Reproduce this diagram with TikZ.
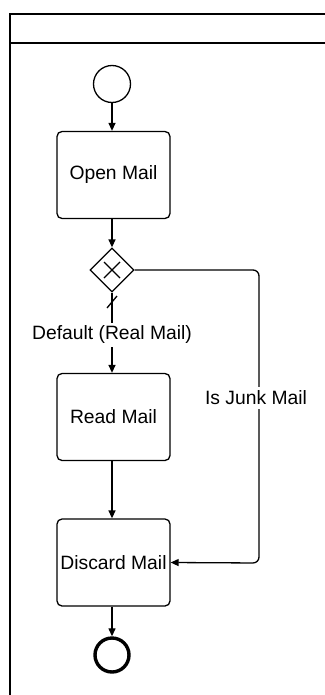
\documentclass[tikz,border=0pt]{standalone}
\usepackage{fontspec}
\setmainfont{Liberation Sans}
\usetikzlibrary{arrows.meta,shapes.geometric,calc}
\begin{document}
\begin{tikzpicture}[x=1pt,y=-1pt,
  lbl/.style={font=\fontsize{19.3}{23}\selectfont},
  task/.style={draw,line width=1.3pt,rounded corners=5pt,minimum width=113pt,minimum height=87pt,inner sep=0pt,lbl},
  flow/.style={draw,line width=1.3pt,-{Triangle[length=8pt,width=7pt]}},
  frame/.style={draw,line width=1.5pt}]
\useasboundingbox (0,0) rectangle (324,695);
% pool / lane frame
\coordinate (ftl) at (10,14);
\coordinate (ftr) at (330,14);
\coordinate (fhl) at (10,43);
\coordinate (fhr) at (330,43);
\coordinate (fbl) at (10,700);
\draw[frame] (ftr) -- (ftl) -- (fbl);
\draw[frame] (fhl) -- (fhr);
% nodes
\node[circle,draw,line width=1.3pt,minimum size=37pt,inner sep=0pt] (start) at (112,84) {};
\node[task] (open) at (113.5,175) {Open Mail};
\node[diamond,draw,line width=1.3pt,minimum width=44pt,minimum height=44pt,inner sep=0pt] (gw) at (112,270) {};
\draw[line width=1.3pt] ($(gw.center)+(-8,-8)$) -- ($(gw.center)+(8,8)$);
\draw[line width=1.3pt] ($(gw.center)+(-8,8)$) -- ($(gw.center)+(8,-8)$);
\node[task] (read) at (113.5,417) {Read Mail};
\node[task] (discard) at (113.5,562.5) {Discard Mail};
\node[circle,draw,line width=3.4pt,minimum size=34pt,inner sep=0pt] (end) at (112,655) {};
% connectors
\draw[flow] (start) -- (open.north -| start.south);
\draw[flow] (open.south -| gw.north) -- (gw.north);
\draw[flow] (gw.south) -- (gw.south |- read.north);
\node[lbl,fill=white,inner xsep=1pt,inner ysep=3pt] (deflbl) at (112,335) {Default (Real Mail)};
\draw[line width=1.3pt] (107,308) -- (117,296);
\draw[flow] (read.south -| gw.south) -- (discard.north -| gw.south);
\coordinate (jr) at (259,563);
\draw[flow,rounded corners=6pt] (gw.east) -| (jr) -- (discard.east);
\node[lbl,fill=white,inner xsep=1pt,inner ysep=4pt] (junklbl) at (256,398) {Is Junk Mail};
\draw[flow] (discard.south -| end.north) -- (end.north);
\end{tikzpicture}
\end{document}
